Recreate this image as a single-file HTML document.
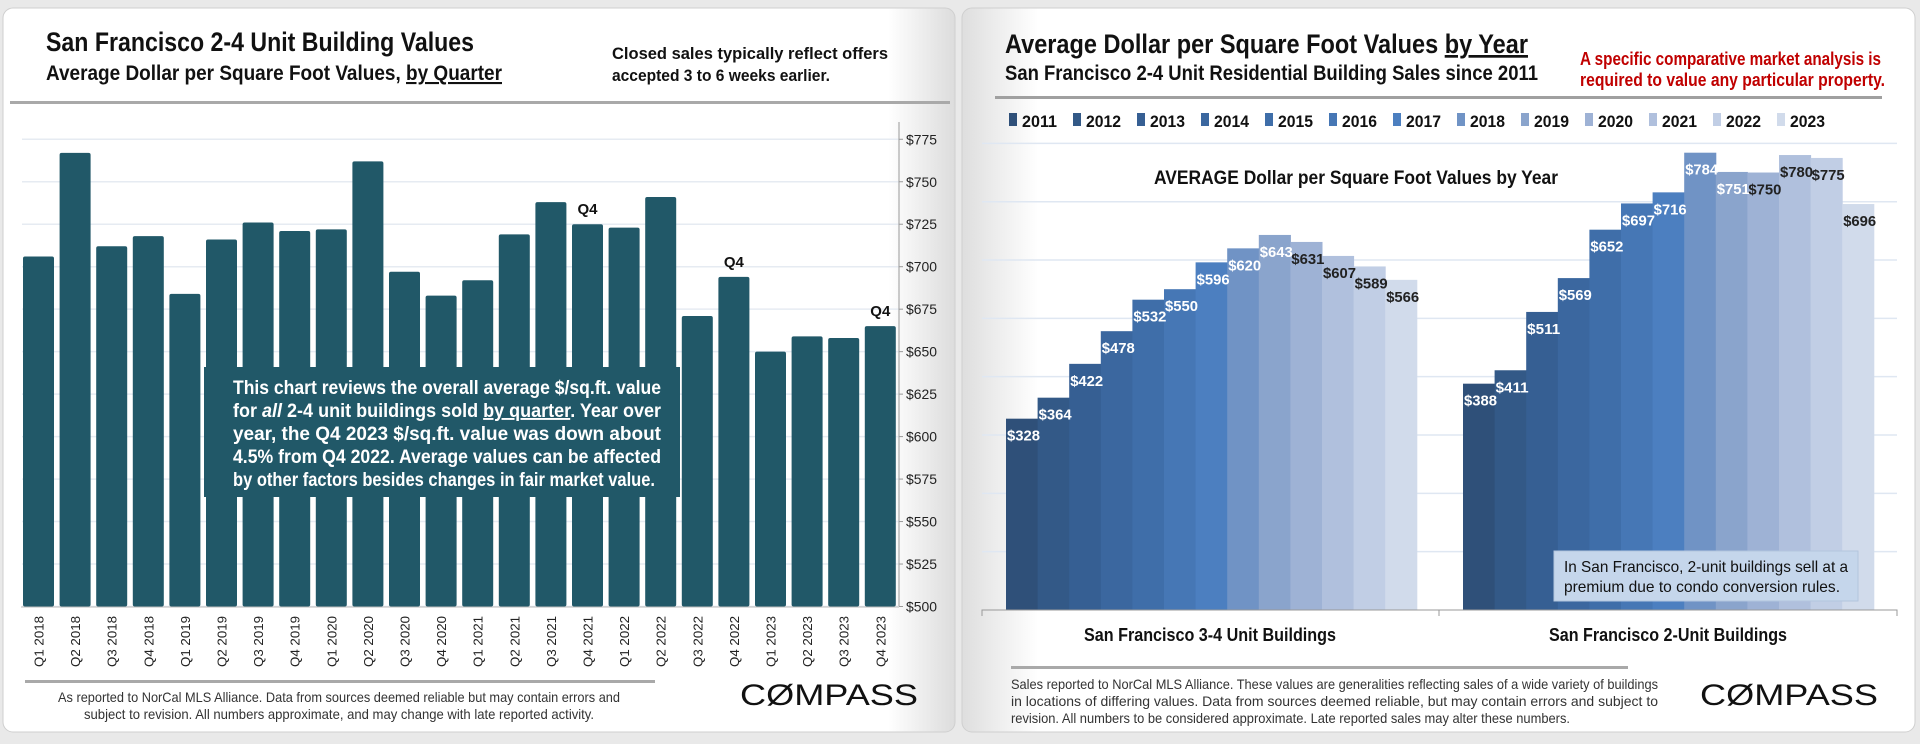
<!DOCTYPE html>
<html><head><meta charset="utf-8">
<style>
html,body{margin:0;padding:0;background:#e9e9e9;}
body{width:1920px;height:744px;overflow:hidden;font-family:"Liberation Sans",sans-serif;}
svg text{font-family:"Liberation Sans",sans-serif;}
</style></head>
<body>
<svg id="svg" width="1920" height="744" viewBox="0 0 1920 744" xmlns="http://www.w3.org/2000/svg" style="position:absolute;left:0;top:0">
<defs>
<linearGradient id="pg" x1="0" x2="1" y1="0" y2="0"><stop offset="0" stop-color="#fff"/><stop offset="0.93" stop-color="#fff"/><stop offset="1" stop-color="#dcdcdc"/></linearGradient>
<linearGradient id="pg2" x1="0" x2="1" y1="0" y2="0"><stop offset="0" stop-color="#dedede"/><stop offset="0.08" stop-color="#fff"/><stop offset="1" stop-color="#fff"/></linearGradient>
</defs>
<rect x="3" y="8" width="952" height="724" rx="10" fill="url(#pg)" stroke="#cfcfcf"/>
<rect x="962" y="8" width="953" height="724" rx="10" fill="url(#pg2)" stroke="#cfcfcf"/>
<g lengthAdjust="spacingAndGlyphs">
<text x="46" y="51" font-size="27" font-weight="bold" fill="#111" textLength="428" lengthAdjust="spacingAndGlyphs">San Francisco 2-4 Unit Building Values</text>
<text x="46" y="80" font-size="21" font-weight="bold" fill="#111" textLength="456" lengthAdjust="spacingAndGlyphs">Average Dollar per Square Foot Values, <tspan text-decoration="underline">by Quarter</tspan></text>
<text x="612" y="59" font-size="17" font-weight="bold" fill="#111" textLength="276" lengthAdjust="spacingAndGlyphs">Closed sales typically reflect offers</text>
<text x="612" y="81" font-size="17" font-weight="bold" fill="#111" textLength="218" lengthAdjust="spacingAndGlyphs">accepted 3 to 6 weeks earlier.</text>
</g>
<rect x="10" y="101" width="940" height="3" fill="#a9a9a9"/>
<g id="left-chart"></g>
<g font-size="19" font-weight="bold" fill="#fff">
<text x="233" y="394" textLength="428" lengthAdjust="spacingAndGlyphs">This chart reviews the overall average $/sq.ft. value</text>
<text x="233" y="417" textLength="428" lengthAdjust="spacingAndGlyphs">for <tspan font-style="italic">all</tspan> 2-4 unit buildings sold <tspan text-decoration="underline">by quarter</tspan>. Year over</text>
<text x="233" y="440" textLength="428" lengthAdjust="spacingAndGlyphs">year, the Q4 2023 $/sq.ft. value was down about</text>
<text x="233" y="463" textLength="428" lengthAdjust="spacingAndGlyphs">4.5% from Q4 2022. Average values can be affected</text>
<text x="233" y="486" textLength="422" lengthAdjust="spacingAndGlyphs">by other factors besides changes in fair market value.</text>
</g>
<rect x="25" y="680" width="630" height="3" fill="#a9a9a9"/>
<text x="58" y="702" font-size="14" fill="#333" textLength="562" lengthAdjust="spacingAndGlyphs">As reported to NorCal MLS Alliance. Data from sources deemed reliable but may contain errors and</text>
<text x="84" y="719" font-size="14" fill="#333" textLength="510" lengthAdjust="spacingAndGlyphs">subject to revision. All numbers approximate, and may change with late reported activity.</text>
<text x="740" y="705" font-size="30" fill="#111" textLength="178" lengthAdjust="spacingAndGlyphs">C&#216;MPASS</text>

<text x="1005" y="53" font-size="27" font-weight="bold" fill="#111" textLength="523" lengthAdjust="spacingAndGlyphs">Average Dollar per Square Foot Values <tspan text-decoration="underline">by Year</tspan></text>
<text x="1005" y="80" font-size="21" font-weight="bold" fill="#111" textLength="533" lengthAdjust="spacingAndGlyphs">San Francisco 2-4 Unit Residential Building Sales since 2011</text>
<text x="1580" y="65" font-size="18" font-weight="bold" fill="#c00000" textLength="301" lengthAdjust="spacingAndGlyphs">A specific comparative market analysis is</text>
<text x="1580" y="86" font-size="18" font-weight="bold" fill="#c00000" textLength="305" lengthAdjust="spacingAndGlyphs">required to value any particular property.</text>
<rect x="995" y="96" width="887" height="3" fill="#a0a0a0"/>
<g id="right-chart"></g>
<rect x="1554" y="551" width="304" height="50" fill="#c5d6eb" stroke="#b3c5de"/>
<text x="1564" y="572" font-size="16" fill="#111" textLength="284" lengthAdjust="spacingAndGlyphs">In San Francisco, 2-unit buildings sell at a</text>
<text x="1564" y="592" font-size="16" fill="#111" textLength="276" lengthAdjust="spacingAndGlyphs">premium due to condo conversion rules.</text>
<rect x="1011" y="666" width="617" height="3" fill="#a9a9a9"/>
<g font-size="14" fill="#333">
<text x="1011" y="689" textLength="647" lengthAdjust="spacingAndGlyphs">Sales reported to NorCal MLS Alliance. These values are generalities reflecting sales of a wide variety of buildings</text>
<text x="1011" y="706" textLength="647" lengthAdjust="spacingAndGlyphs">in locations of differing values. Data from sources deemed reliable, but may contain errors and subject to</text>
<text x="1011" y="723" textLength="559" lengthAdjust="spacingAndGlyphs">revision. All numbers to be considered approximate. Late reported sales may alter these numbers.</text>
</g>
<text x="1700" y="705" font-size="30" fill="#111" textLength="178" lengthAdjust="spacingAndGlyphs">C&#216;MPASS</text>
</svg>
<script>
const quarters=["Q1 2018","Q2 2018","Q3 2018","Q4 2018","Q1 2019","Q2 2019","Q3 2019","Q4 2019","Q1 2020","Q2 2020","Q3 2020","Q4 2020","Q1 2021","Q2 2021","Q3 2021","Q4 2021","Q1 2022","Q2 2022","Q3 2022","Q4 2022","Q1 2023","Q2 2023","Q3 2023","Q4 2023"];
const quarterValues=[706,767,712,718,684,716,726,721,722,762,697,683,692,719,738,725,723,741,671,694,650,659,658,665];
const q4Marked=["Q4 2021","Q4 2022","Q4 2023"];
const leftTicks=[500,525,550,575,600,625,650,675,700,725,750,775];
const years=["2011","2012","2013","2014","2015","2016","2017","2018","2019","2020","2021","2022","2023"];
const groups=["San Francisco 3-4 Unit Buildings","San Francisco 2-Unit Buildings"];
const values34=[328,364,422,478,532,550,596,620,643,631,607,589,566];
const values2=[388,411,511,569,652,697,716,784,751,750,780,775,696];
const rightGrid=[100,200,300,400,500,600,700,800];

const NS="http://www.w3.org/2000/svg";
function mk(tag,attrs,parent,txt){const e=document.createElementNS(NS,tag);for(const k in attrs)e.setAttribute(k,attrs[k]);if(txt!==undefined)e.textContent=txt;parent.appendChild(e);return e;}

// left chart
const L=document.getElementById('left-chart');
const ly=v=>606.5-(v-500)*1.699;
const lx0=21,lpitch=36.6,lbw=31;
leftTicks.forEach(t=>{
  const g=mk('line',{x1:22,x2:899,y1:ly(t),y2:ly(t),stroke:'#e6ebf2','stroke-width':1.5},L);
  
  
  const tl=mk('text',{x:906,y:ly(t)+5,'font-size':14,fill:'#222',textLength:31,lengthAdjust:'spacingAndGlyphs'},L,'$'+t);
  
  
  const tk=mk('line',{x1:899,x2:903,y1:ly(t),y2:ly(t),stroke:'#999'},L);
  
  
});
const ax=mk('line',{x1:899,x2:899,y1:122,y2:606,stroke:'#999'},L);


const nb=mk('rect',{x:204,y:367,width:476,height:130,fill:'#215868'},L);
quarters.forEach((q,i)=>{
  const x=lx0+2+i*lpitch,v=quarterValues[i];
  const b=mk('rect',{x:x,y:ly(v),width:lbw,height:ly(500)-ly(v),rx:2,fill:'#215868'},L);
  
  
  const t=mk('text',{transform:`translate(${x+lbw/2+5},${667}) rotate(-90)`,'font-size':13,fill:'#222',textLength:51,lengthAdjust:'spacingAndGlyphs'},L,q);
  
  
  if(q4Marked.includes(q)){
    const m=mk('text',{x:x+lbw/2,y:ly(v)-10,'font-size':15,'font-weight':'bold','text-anchor':'middle',fill:'#111'},L,'Q4');
    
    
  }
});
L.appendChild(nb);


const bx=mk('line',{x1:21,x2:899,y1:607,y2:607,stroke:'#bbb'},L);



// right chart
const R=document.getElementById('right-chart');
const colors=["#2f5079","#335987","#365f93","#3b679f","#3f6ea9","#4677b5","#4c7fc0","#7093c5","#8aa4cc","#9eb2d5","#b0c0dd","#c1cee5","#d1dbeb"];
const ry=v=>610-v*0.5833;
rightGrid.forEach(t=>{
  const g=mk('line',{x1:982,x2:1897,y1:ry(t),y2:ry(t),stroke:'#dfe7f2','stroke-width':1.5},R);
  
  
});
years.forEach((y,i)=>{
  const x=1009+i*64;
  const s=mk('rect',{x:x,y:113,width:8,height:13,fill:colors[i]},R);
  
  
  const t=mk('text',{x:x+13,y:127,'font-size':17,'font-weight':'bold',fill:'#111',textLength:35,lengthAdjust:'spacingAndGlyphs'},R,y);
  
  
});
const ct=mk('text',{x:1154,y:184,'font-size':19,'font-weight':'bold',fill:'#111',textLength:404,lengthAdjust:'spacingAndGlyphs'},R,'AVERAGE Dollar per Square Foot Values by Year');


const bw=31.6;
[values34,values2].forEach((vals,gi)=>{
  const gx=[1006,1463][gi];
  vals.forEach((v,i)=>{
    const x=gx+i*bw;
    const b=mk('rect',{x:x,y:ry(v),width:bw+0.5,height:610-ry(v),fill:colors[i]},R);
    
    
  });
  vals.forEach((v,i)=>{
    const x=gx+i*bw;
    const l=mk('text',{x:x+1,y:ry(v)+22,'font-size':15,'font-weight':'bold',fill:i<=8?'#fff':'#222',textLength:33,lengthAdjust:'spacingAndGlyphs'},R,'$'+v);
    
    
  });
  const cl=mk('text',{x:[1210,1668][gi],y:641,'font-size':18,'font-weight':'bold','text-anchor':'middle',fill:'#111',textLength:[252,238][gi],lengthAdjust:'spacingAndGlyphs'},R,groups[gi]);
  
  
});
const rax=mk('path',{d:'M982,616 V610 H1897 V616 M1439,610 V616',fill:'none',stroke:'#999'},R);


</script>
</body></html>
